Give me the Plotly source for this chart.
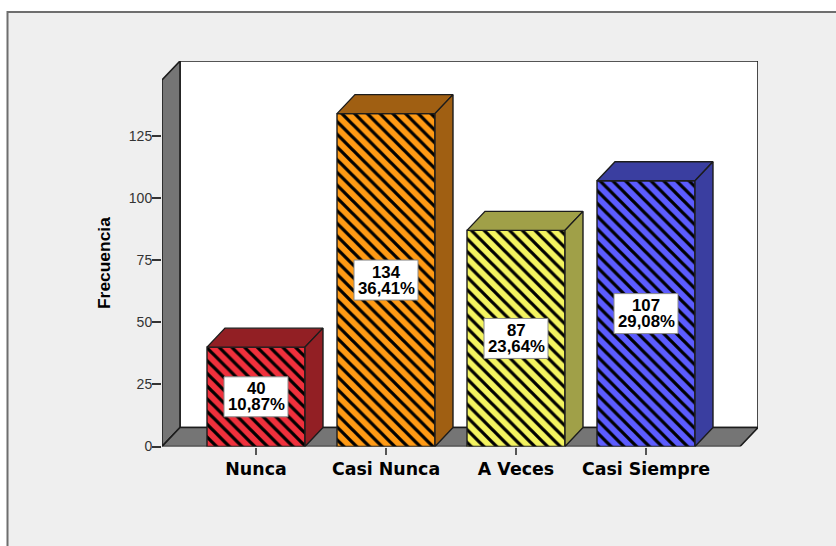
import plotly.graph_objects as go

W, H = 836, 546

# Chart data
categories = ["Nunca", "Casi Nunca", "A Veces", "Casi Siempre"]
counts = [40, 134, 87, 107]
percents = ["10,87%", "36,41%", "23,64%", "29,08%"]
tick_values = [0, 25, 50, 75, 100, 125]

# Bar colours
front_colors = ["#f0303c", "#ff9a14", "#f4f460", "#5c5cff"]
shade_colors = ["#921f24", "#a05f12", "#a0a048", "#3a3ea0"]

WALL = "#757575"
EDGE = "#1c1c1c"
PANEL = "#efefef"

# Pixel layout of the 3D box
LEFT, RIGHT = 162, 758
BOTTOM, TOP = 446.5, 61
DEPTH_PX_X, DEPTH_PX_Y = 18, 19
PX_PER_CAT = 130
PX_PER_UNIT = 2.484
FIRST_CAT_PX = 256

x_min = (LEFT - FIRST_CAT_PX) / PX_PER_CAT
x_max = (RIGHT - FIRST_CAT_PX) / PX_PER_CAT
y_max = (BOTTOM - TOP) / PX_PER_UNIT
dx = DEPTH_PX_X / PX_PER_CAT
dy = DEPTH_PX_Y / PX_PER_UNIT
bar_w = 98 / PX_PER_CAT

front_right = x_max - dx
front_top = y_max - dy


def poly(xs, ys, fill):
    return go.Scatter(
        x=xs, y=ys, mode="lines", fill="toself", fillcolor=fill,
        line=dict(color=EDGE, width=1.4), hoverinfo="skip", showlegend=False,
    )


def wall(points, fill):
    path = "M " + " L ".join(f"{px},{py}" for px, py in points) + " Z"
    return dict(type="path", xref="x", yref="y", path=path, fillcolor=fill,
                line=dict(color=EDGE, width=1.6), layer="below")


fig = go.Figure()

# One hatched front per bar, so each keeps a scalar colour and black hatching
for i, v in enumerate(counts):
    fig.add_trace(go.Bar(
        x=[i], y=[v], width=bar_w,
        marker=dict(
            color=front_colors[i],
            line=dict(color=EDGE, width=1.4),
            pattern=dict(shape="\\", fillmode="replace", fgcolor="#000000", fgopacity=1,
                         bgcolor=front_colors[i], size=9, solidity=0.36),
        ),
        hoverinfo="skip", showlegend=False,
    ))

# Extruded top and side of each bar
for i, v in enumerate(counts):
    l, r = i - bar_w / 2, i + bar_w / 2
    fig.add_trace(poly([l, r, r + dx, l + dx, l], [v, v, v + dy, v + dy, v], shade_colors[i]))
    fig.add_trace(poly([r, r + dx, r + dx, r, r], [0, dy, v + dy, v, 0], shade_colors[i]))

shapes = [
    # Panel behind the chart with its top and left rule
    dict(type="rect", xref="paper", yref="paper", x0=7.5 / W, x1=1.01, y0=-0.01, y1=1 - 12 / H,
         fillcolor=PANEL, line=dict(color="#6e6e6e", width=2), layer="below"),
    # Back wall, left wall and floor
    wall([(x_min + dx, dy), (x_max, dy), (x_max, y_max), (x_min + dx, y_max)], "#ffffff"),
    wall([(x_min, 0), (x_min + dx, dy), (x_min + dx, y_max), (x_min, front_top)], WALL),
    wall([(x_min, 0), (front_right, 0), (x_max, dy), (x_min + dx, dy)], WALL),
]

annotations = []
for i, v in enumerate(counts):
    shapes.append(dict(
        type="rect", xref="x", yref="y", xsizemode="pixel", ysizemode="pixel",
        xanchor=i, yanchor=v / 2, x0=-32, x1=32, y0=-20, y1=20,
        fillcolor="#ffffff", line=dict(color="#8a8a8a", width=1),
    ))
    for text, shift in ((str(v), 8), (percents[i], -8)):
        annotations.append(dict(
            x=i, y=v / 2, xref="x", yref="y", text=f"<b>{text}</b>", showarrow=False,
            yshift=shift, font=dict(family="Liberation Sans", size=16.8, color="#000000"),
        ))

annotations.append(dict(
    xref="paper", yref="paper", x=104 / W, y=1 - 263 / H, xanchor="center", yanchor="middle",
    text="<b>Frecuencia</b>", textangle=-90,
    showarrow=False, font=dict(family="Liberation Sans", size=17.4, color="#000000"),
))

fig.update_layout(
    template="none",
    width=W, height=H, autosize=False,
    margin=dict(l=0, r=0, t=0, b=0, pad=0),
    paper_bgcolor="#ffffff", plot_bgcolor="rgba(0,0,0,0)",
    barmode="overlay", shapes=shapes, annotations=annotations,
    font=dict(family="Liberation Sans", color="#000000"),
    xaxis=dict(
        automargin=False,
        domain=[LEFT / W, RIGHT / W], range=[x_min, x_max], tickmode="array",
        tickvals=list(range(len(categories))), ticktext=[f"<b>{c}</b>" for c in categories],
        ticks="outside", ticklen=7, tickcolor="#555555", tickwidth=1.5,
        tickfont=dict(family="DejaVu Sans", size=17.4), showgrid=False, zeroline=False, showline=False,
    ),
    yaxis=dict(
        automargin=False,
        domain=[1 - BOTTOM / H, 1 - TOP / H], range=[0, y_max], tickmode="array",
        tickvals=tick_values, ticks="outside", ticklen=9, tickcolor="#333333", tickwidth=1.5,
        ticklabelstandoff=-3,
        tickfont=dict(family="Liberation Sans", size=14, color="#333333"),
        showgrid=False, zeroline=False, showline=False,
    ),
)

fig.write_html("out.html")
